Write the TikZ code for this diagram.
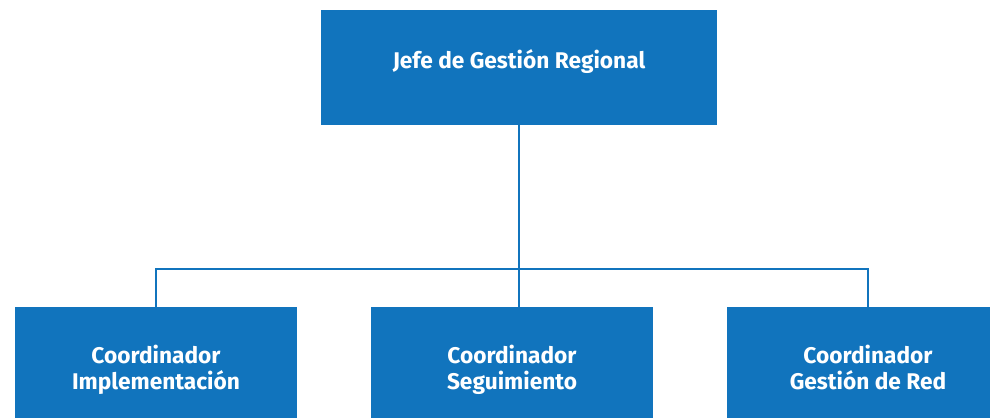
\documentclass[tikz,border=0pt]{standalone}
\usepackage{fontspec}
\setmainfont{Fira Sans}
\definecolor{azul}{RGB}{17,116,189}
\tikzset{
  cargo/.style={fill=azul,draw=none,minimum width=282pt,minimum height=111pt,inner sep=0pt},
  texto/.style={text=white,font=\bfseries\fontsize{22.7}{26}\selectfont,align=center,inner sep=0pt},
  linea/.style={draw=azul,line width=2.8pt}
}
\begin{document}
\begin{tikzpicture}[x=1pt,y=-1pt]
\useasboundingbox (0,0) rectangle (990,418);
\clip (0,0) rectangle (990,418);
\node[cargo,minimum width=396pt,minimum height=115pt] (jefe) at (519,67.5) {};
\node[cargo] (impl) at (156,362.5) {};
\node[cargo] (seg) at (512,362.5) {};
\node[cargo] (red) at (868,362.5) {};
\coordinate (bus) at (520,269);
\draw[linea] (jefe.south) -- (jefe.south |- seg.north);
\draw[linea] (impl.north) -- (impl.north |- bus) -- (red.north |- bus) -- (red.north);
\node[texto,anchor=base] at (519,68) {Jefe de Gestión Regional};
\node[texto,anchor=north] at (156,344.5) {Coordinador\\Implementación};
\node[texto,anchor=north] at (512,344.5) {Coordinador\\Seguimiento};
\node[texto,anchor=north] at (868,344.5) {Coordinador\\Gestión de Red};
\end{tikzpicture}
\end{document}
